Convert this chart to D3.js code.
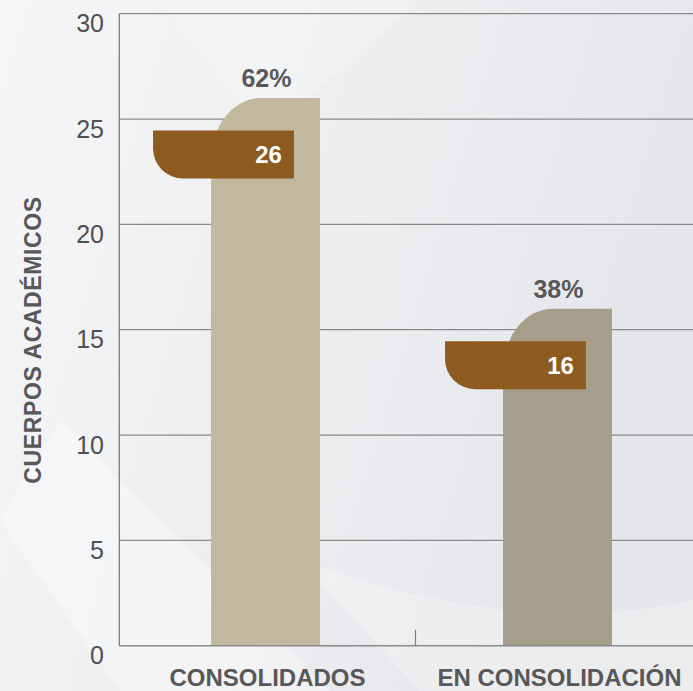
<!DOCTYPE html>
<html><head><meta charset="utf-8">
<script src="https://cdn.jsdelivr.net/npm/d3@7"></script>
<style>html,body{margin:0;padding:0;background:#eeeff1;overflow:hidden}svg{display:block}</style>
</head><body>
<script>
const categories = ["CONSOLIDADOS", "EN CONSOLIDACIÓN"];
const values = [26, 16];
const percentLabels = ["62%", "38%"];
const yTicks = [0, 5, 10, 15, 20, 25, 30];
const yTitle = "CUERPOS ACADÉMICOS";
const barColors = ["#c2b8a0", "#a69e8a"];

const W = 693, H = 691;
const svg = d3.select("body").append("svg").attr("width", W).attr("height", H);
const defs = svg.append("defs");
const bg = defs.append("linearGradient").attr("id", "bg").attr("x1", "0").attr("y1", "0").attr("x2", "1").attr("y2", "0.3");
bg.append("stop").attr("offset", "0").attr("stop-color", "#f6f6f7");
bg.append("stop").attr("offset", "0.45").attr("stop-color", "#eeeff1");
bg.append("stop").attr("offset", "1").attr("stop-color", "#e5e6e9");
svg.append("rect").attr("width", W).attr("height", H).attr("fill", "url(#bg)");
// soft diagonal light streaks
svg.append("path").attr("d", "M0,520 L120,691 L330,691 L60,420 Z").attr("fill", "#ffffff").attr("opacity", 0.35);
svg.append("path").attr("d", "M300,560 Q520,640 693,600 L693,691 L420,691 Z").attr("fill", "#ffffff").attr("opacity", 0.25);
svg.append("path").attr("d", "M160,0 L420,0 L260,140 Z").attr("fill", "#ffffff").attr("opacity", 0.2);

const y = d3.scaleLinear().domain([0, 30]).range([645.7, 13.7]);
const x = d3.scaleBand().domain(categories).range([119.5, 703.5]).paddingInner(0.627).paddingOuter(0.3135);
const left = 119.3, right = W;

// gridlines
svg.append("g").selectAll("line").data(yTicks.filter(d => d > 0)).join("line")
  .attr("x1", left).attr("x2", right).attr("y1", d => y(d)).attr("y2", d => y(d))
  .attr("stroke", "#8a8a8c").attr("stroke-width", 1.2);

// bars with rounded top-left corner
const rx = 50, ry = 62;
svg.append("g").selectAll("path").data(values).join("path")
  .attr("d", (d, i) => {
    const x0 = x(categories[i]), x1 = x0 + x.bandwidth(), yt = y(d), yb = y(0);
    return `M${x0},${yb} L${x0},${yt + ry} A${rx},${ry} 0 0 1 ${x0 + rx},${yt} L${x1},${yt} L${x1},${yb} Z`;
  })
  .attr("fill", (d, i) => barColors[i]);

// axes lines
svg.append("line").attr("x1", left).attr("x2", left).attr("y1", y(30)).attr("y2", y(0)).attr("stroke", "#7d7d80").attr("stroke-width", 1.3);
svg.append("line").attr("x1", left).attr("x2", right).attr("y1", y(0)).attr("y2", y(0)).attr("stroke", "#8a8a8c").attr("stroke-width", 1.6);
const divX = (x(categories[0]) + x.bandwidth() + x(categories[1])) / 2 + 4;
svg.append("line").attr("x1", divX).attr("x2", divX).attr("y1", y(0) - 16).attr("y2", y(0)).attr("stroke", "#7d7d80").attr("stroke-width", 1.2);

// y tick labels
svg.append("g").selectAll("text").data(yTicks).join("text")
  .attr("x", 104).attr("y", d => y(d) + 18.5).attr("text-anchor", "end")
  .attr("font-family", "Liberation Sans, Arial, sans-serif").attr("font-size", 25).attr("fill", "#505052")
  .text(d => d);

// value boxes with rounded bottom-left corner
const boxH = 48, r = 30;
const boxes = svg.append("g").selectAll("g").data(values).join("g");
boxes.append("path").attr("d", (d, i) => {
  const bx0 = x(categories[i]) - 58, bx1 = x(categories[i]) + x.bandwidth() - 26;
  const t = y(d) + 32.5, b = t + boxH;
  return `M${bx0},${t} L${bx1},${t} L${bx1},${b} L${bx0 + r},${b} A${r},${r} 0 0 1 ${bx0},${b - r} Z`;
}).attr("fill", "#8d5b20");
boxes.append("text")
  .attr("x", (d, i) => x(categories[i]) + x.bandwidth() - 38)
  .attr("y", d => y(d) + 32.5 + boxH / 2 + 8.5)
  .attr("text-anchor", "end").attr("font-family", "Liberation Sans, Arial, sans-serif")
  .attr("font-weight", "bold").attr("font-size", 24).attr("fill", "#ffffff")
  .text(d => d);

// percent labels
svg.append("g").selectAll("text").data(values).join("text")
  .attr("x", (d, i) => x(categories[i]) + x.bandwidth() / 2 + 1)
  .attr("y", d => y(d) - 11)
  .attr("text-anchor", "middle").attr("font-family", "Liberation Sans, Arial, sans-serif")
  .attr("font-weight", "bold").attr("font-size", 25).attr("fill", "#58585a")
  .text((d, i) => percentLabels[i]);

// category labels
svg.append("g").selectAll("text").data(categories).join("text")
  .attr("x", d => x(d) + x.bandwidth() / 2 + 2).attr("y", 686)
  .attr("text-anchor", "middle").attr("font-family", "Liberation Sans, Arial, sans-serif")
  .attr("font-weight", "bold").attr("font-size", 24).attr("fill", "#58585a")
  .text(d => d);

// y title
svg.append("text").attr("transform", "translate(41,340) rotate(-90)")
  .attr("text-anchor", "middle").attr("font-family", "Liberation Sans, Arial, sans-serif")
  .attr("font-weight", "bold").attr("font-size", 23).attr("letter-spacing", 0.6).attr("fill", "#58585a")
  .text(yTitle);
</script>
</body></html>
